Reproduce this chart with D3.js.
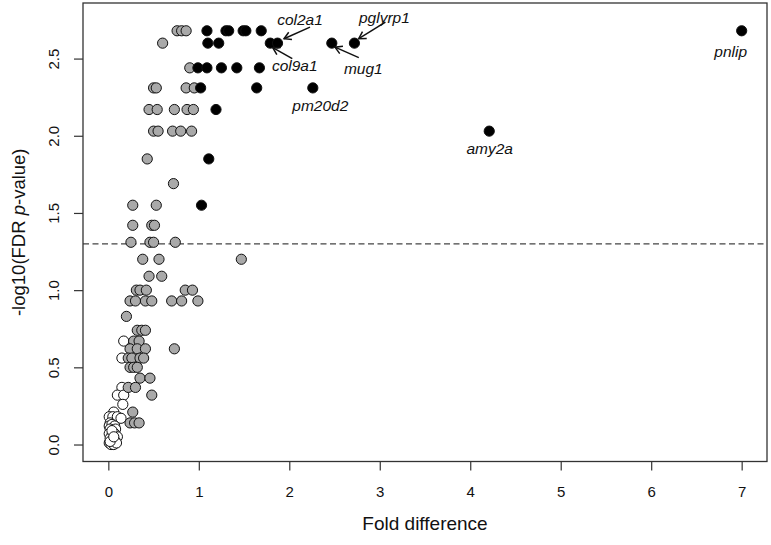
<!DOCTYPE html>
<html>
<head>
<meta charset="utf-8">
<script src="https://cdn.jsdelivr.net/npm/d3@7"></script>
<style>
  html, body { margin: 0; padding: 0; background: #fff; }
  svg { display: block; font-family: "Liberation Sans", Arial, Helvetica, sans-serif; }
</style>
</head>
<body>
<svg id="chart" width="771" height="545"></svg>
<script>
// ---------- data ----------
// open (white) points: fold difference, -log10(FDR p)
const whiteX = [0.17, 0.15, 0.15, 0.10, 0.17, 0.16, 0.06, 0.01, 0.05, 0.10, 0.14, 0.02,
                0.01, 0.04, 0.07, 0.02, 0.05, 0.08, 0.01, 0.04, 0.07, 0.10, 0.02, 0.05,
                0.08, 0.01, 0.03, 0.06, 0.09, 0.02, 0.04, 0.06];
const whiteY = [0.67, 0.56, 0.37, 0.32, 0.32, 0.26, 0.21, 0.18, 0.18, 0.18, 0.17, 0.14,
                0.12, 0.13, 0.12, 0.10, 0.09, 0.10, 0.07, 0.06, 0.07, 0.05, 0.04, 0.03,
                0.02, 0.01, 0.00, 0.00, 0.01, 0.02, 0.09, 0.05];

// grey points
const greyX = [0.76, 0.81, 0.86, 0.60, 0.90,
               0.50, 0.53, 0.86, 0.95,
               0.45, 0.54, 0.73, 0.87, 0.94,
               0.50, 0.55, 0.71, 0.80, 0.92,
               0.43, 0.72, 0.27, 0.53, 0.27, 0.48, 0.51,
               0.25, 0.46, 0.50, 0.74,
               0.38, 0.56, 1.47,
               0.45, 0.59,
               0.31, 0.35, 0.42, 0.85, 0.93,
               0.24, 0.30, 0.41, 0.48, 0.70, 0.81, 0.99,
               0.20,
               0.32, 0.37, 0.41,
               0.28, 0.34,
               0.24, 0.32, 0.41, 0.73,
               0.22, 0.26, 0.35, 0.39,
               0.24, 0.28, 0.32,
               0.35, 0.46,
               0.22, 0.30,
               0.48,
               0.27,
               0.24, 0.29, 0.34];
const greyY = [2.68, 2.68, 2.68, 2.60, 2.44,
               2.31, 2.31, 2.31, 2.31,
               2.17, 2.17, 2.17, 2.17, 2.17,
               2.03, 2.03, 2.03, 2.03, 2.03,
               1.85, 1.69, 1.55, 1.55, 1.42, 1.42, 1.42,
               1.31, 1.31, 1.31, 1.31,
               1.20, 1.20, 1.20,
               1.09, 1.09,
               1.00, 1.00, 1.00, 1.00, 1.00,
               0.93, 0.93, 0.93, 0.93, 0.93, 0.93, 0.93,
               0.83,
               0.74, 0.74, 0.74,
               0.67, 0.67,
               0.62, 0.62, 0.62, 0.62,
               0.56, 0.56, 0.56, 0.56,
               0.50, 0.50, 0.50,
               0.43, 0.43,
               0.37, 0.37,
               0.32,
               0.21,
               0.14, 0.14, 0.14];

// black (significant, fold > 1) points
const blackX = [1.09, 1.30, 1.33, 1.49, 1.52, 1.69, 7.00,
                1.10, 1.22, 1.79, 1.87, 2.47, 2.72,
                0.99, 1.09, 1.25, 1.42, 1.67,
                1.02, 1.64, 2.26,
                1.19, 4.21, 1.11, 1.03];
const blackY = [2.68, 2.68, 2.68, 2.68, 2.68, 2.68, 2.68,
                2.60, 2.60, 2.60, 2.60, 2.60, 2.60,
                2.44, 2.44, 2.44, 2.44, 2.44,
                2.31, 2.31, 2.31,
                2.17, 2.03, 1.85, 1.55];

// labelled genes
const geneNames = ["col2a1", "col9a1", "mug1", "pglyrp1", "pm20d2", "amy2a", "pnlip"];
const geneX     = [1.87, 1.79, 2.47, 2.72, 2.26, 4.21, 7.00];
const geneY     = [2.60, 2.60, 2.60, 2.60, 2.31, 2.03, 2.68];

const xTicks = [0, 1, 2, 3, 4, 5, 6, 7];
const yTicks = [0.0, 0.5, 1.0, 1.5, 2.0, 2.5];
const threshold = 1.3;   // -log10(0.05)
const xTitle = "Fold difference";

// ---------- layout ----------
const L = 83, R = 767, T = 3, B = 461.5;
const svg = d3.select("#chart");

const x = d3.scaleLinear().domain([-0.28, 7.28]).range([L, R]);
const y = d3.scaleLinear().domain([-0.11, 2.86]).range([B, T]);

// threshold line
svg.append("line")
  .attr("x1", L).attr("x2", R)
  .attr("y1", y(threshold)).attr("y2", y(threshold))
  .attr("stroke", "#444").attr("stroke-width", 1.3)
  .attr("stroke-dasharray", "6,3.5");

// points
function drawPoints(xs, ys, fill) {
  svg.append("g").selectAll("circle")
    .data(xs.map((v, i) => [v, ys[i]]))
    .join("circle")
    .attr("cx", d => x(d[0]))
    .attr("cy", d => y(d[1]))
    .attr("r", 5.1)
    .attr("fill", fill)
    .attr("stroke", "#111")
    .attr("stroke-width", 1);
}
drawPoints(whiteX, whiteY, "#ffffff");
drawPoints(greyX, greyY, "#a9a9a9");
drawPoints(blackX, blackY, "#000000");

// box
svg.append("rect")
  .attr("x", L).attr("y", T).attr("width", R - L).attr("height", B - T)
  .attr("fill", "none").attr("stroke", "#333").attr("stroke-width", 1.3);

// x axis
const gx = svg.append("g").attr("transform", `translate(0,${B})`)
  .call(d3.axisBottom(x).tickValues(xTicks).tickSize(9).tickFormat(d3.format("d")));
gx.select(".domain").remove();
gx.selectAll(".tick line").attr("stroke", "#333").attr("stroke-width", 1.2);
gx.selectAll(".tick text").attr("y", 35).attr("dy", 0)
  .attr("font-size", 15).attr("fill", "#111")
  .attr("font-family", '"Liberation Sans", Arial, sans-serif');

// y axis
const gy = svg.append("g").attr("transform", `translate(${L},0)`)
  .call(d3.axisLeft(y).tickValues(yTicks).tickSize(9).tickFormat(d3.format(".1f")));
gy.select(".domain").remove();
gy.selectAll(".tick line").attr("stroke", "#333").attr("stroke-width", 1.2);
gy.selectAll(".tick text")
  .attr("transform", "rotate(-90)")
  .attr("x", 0).attr("y", -24).attr("dy", 0)
  .attr("text-anchor", "middle")
  .attr("font-size", 15).attr("fill", "#111")
  .attr("font-family", '"Liberation Sans", Arial, sans-serif');

// axis titles
svg.append("text")
  .attr("x", (L + R) / 2).attr("y", 530)
  .attr("text-anchor", "middle").attr("font-size", 19).attr("fill", "#111")
  .text(xTitle);

const yt = svg.append("text")
  .attr("transform", `translate(25,${(T + B) / 2}) rotate(-90)`)
  .attr("text-anchor", "middle").attr("font-size", 18.5).attr("fill", "#111");
yt.append("tspan").text("-log10(FDR ");
yt.append("tspan").attr("font-style", "italic").text("p");
yt.append("tspan").text("-value)");

// gene labels (pixel offsets relative to the point)
const labelLayout = {
  col2a1:  { tx: 22.5, ty: -18,  arrow: [32.5, -16, 6.5, -4.4] },
  col9a1:  { tx: 24.5, ty: 28,   arrow: [22, 15.5, 2.5, 4.5] },
  mug1:    { tx: 31.5, ty: 30.5, arrow: [27, 14.5, 3.2, 4] },
  pglyrp1: { tx: 30,   ty: -20.5,arrow: [31, -21, 4.3, -4.4] },
  pm20d2:  { tx: 7.5,  ty: 23.5 },
  amy2a:   { tx: 0.5,  ty: 23 },
  pnlip:   { tx: -11,  ty: 26 }
};

const gl = svg.append("g");
geneNames.forEach((name, i) => {
  const px = x(geneX[i]), py = y(geneY[i]);
  const lay = labelLayout[name];
  gl.append("text")
    .attr("x", px + lay.tx).attr("y", py + lay.ty)
    .attr("text-anchor", "middle")
    .attr("font-size", 15.5).attr("font-style", "italic").attr("fill", "#111")
    .text(name);
  if (lay.arrow) {
    const [x0, y0, x1, y1] = lay.arrow;
    const ax0 = px + x0, ay0 = py + y0, ax1 = px + x1, ay1 = py + y1;
    gl.append("line")
      .attr("x1", ax0).attr("y1", ay0).attr("x2", ax1).attr("y2", ay1)
      .attr("stroke", "#111").attr("stroke-width", 1.5);
    const ang = Math.atan2(ay1 - ay0, ax1 - ax0);
    const hl = 8, ha = Math.PI / 6;
    const p1 = [ax1 - hl * Math.cos(ang - ha), ay1 - hl * Math.sin(ang - ha)];
    const p2 = [ax1 - hl * Math.cos(ang + ha), ay1 - hl * Math.sin(ang + ha)];
    gl.append("path")
      .attr("d", `M${p1[0]},${p1[1]}L${ax1},${ay1}L${p2[0]},${p2[1]}`)
      .attr("fill", "none").attr("stroke", "#111").attr("stroke-width", 1.5);
  }
});
</script>
</body>
</html>
